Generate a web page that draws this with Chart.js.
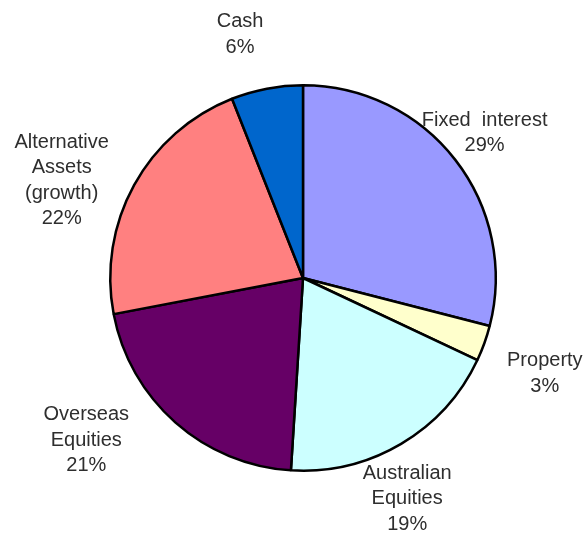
<!DOCTYPE html>
<html>
<head>
<meta charset="utf-8">
<script src="https://cdn.jsdelivr.net/npm/chart.js@4/dist/chart.umd.min.js"></script>
<style>
  body { margin: 0; background: #fff; }
  canvas { display: block; }
</style>
</head>
<body>
<canvas id="chart" width="588" height="534"></canvas>
<script>
const categories = ["Fixed interest", "Property", "Australian Equities", "Overseas Equities", "Alternative Assets (growth)", "Cash"];
const labelLines = [["Fixed  interest"], ["Property"], ["Australian", "Equities"], ["Overseas", "Equities"], ["Alternative", "Assets", "(growth)"], ["Cash"]];
const shares = [29, 3, 19, 21, 22, 6];
const colors = ["#9999FF", "#FFFFCC", "#CCFFFF", "#660066", "#FF8080", "#0066CC"];

// label placement: distance from centre along the slice's mid angle, then a small nudge
const labelDistance = 240;
const labelNudge = [[-8, 2], [16, 14], [-18, 14], [-58, -18], [-31, 18], [-18, -8]];

const pieLabels = {
    id: "pieLabels",
    afterDatasetsDraw(chart) {
        const ctx = chart.ctx;
        const arcs = chart.getDatasetMeta(0).data;
        ctx.save();
        ctx.font = "20px 'Liberation Sans', Arial, sans-serif";
        ctx.fillStyle = "#2e2e2e";
        ctx.textAlign = "center";
        ctx.textBaseline = "middle";
        const lineHeight = 25.5;
        arcs.forEach((arc, i) => {
            const mid = (arc.startAngle + arc.endAngle) / 2;
            const x = arc.x + Math.cos(mid) * labelDistance + labelNudge[i][0];
            const y = arc.y + Math.sin(mid) * labelDistance + labelNudge[i][1];
            const lines = labelLines[i].concat([shares[i] + "%"]);
            const top = y - (lines.length - 1) * lineHeight / 2;
            lines.forEach((line, j) => ctx.fillText(line, x, top + j * lineHeight));
        });
        ctx.restore();
    }
};

new Chart(document.getElementById("chart"), {
    type: "pie",
    data: {
        labels: categories,
        datasets: [{
            data: shares,
            backgroundColor: colors,
            borderColor: "#000000",
            borderWidth: 2.5
        }]
    },
    options: {
        responsive: false,
        animation: false,
        layout: { padding: { left: 109, top: 84, right: 91, bottom: 62 } },
        plugins: {
            legend: { display: false },
            tooltip: { enabled: false }
        }
    },
    plugins: [pieLabels]
});
</script>
</body>
</html>
